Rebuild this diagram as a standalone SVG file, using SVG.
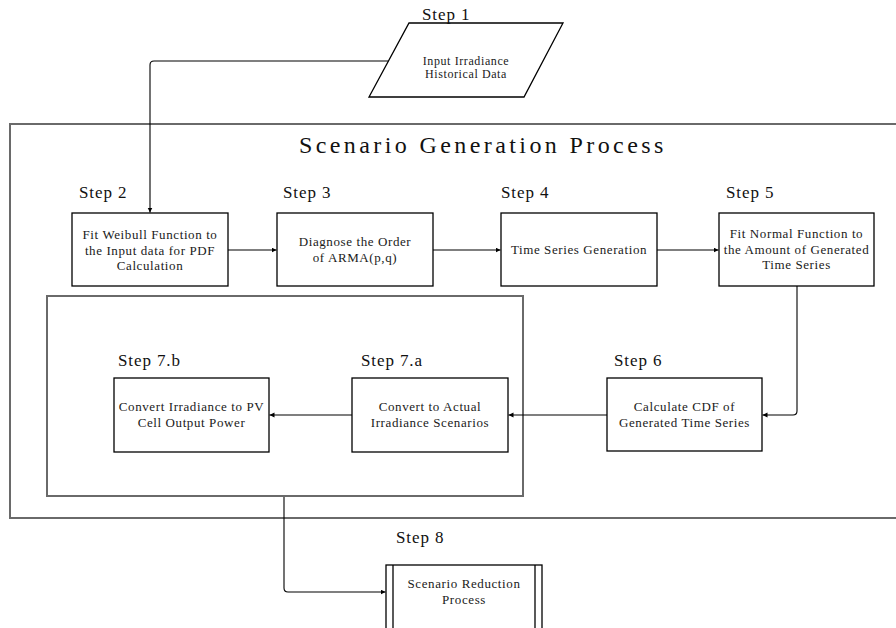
<svg xmlns="http://www.w3.org/2000/svg" width="896" height="628" viewBox="0 0 896 628" font-family="'Liberation Serif', 'DejaVu Serif', serif">
<defs>
<style>
.box{fill:#fff;stroke:#000;stroke-width:1.3}
.frame{fill:none;stroke:#6a6a6a;stroke-width:2}
.step{font-size:17px;fill:#111;letter-spacing:0.9px}
.t{font-size:13px;fill:#1a1a1a;letter-spacing:0.6px;text-anchor:middle}
.title{font-size:24px;fill:#111;letter-spacing:3.4px}
.c{fill:none;stroke:#000;stroke-width:1.1}
</style>
<marker id="ah" markerUnits="userSpaceOnUse" markerWidth="6" markerHeight="6" refX="5" refY="2.5" orient="auto">
<path d="M0,0 L5,2.5 L0,5 z" fill="#000"/>
</marker>
</defs>
<rect width="896" height="628" fill="#fff"/>

<g id="container">
<rect class="frame" x="10" y="124" width="900" height="394"/>
<text class="title" x="299" y="153">Scenario Generation Process</text>
</g>
<g id="inner-container">
<rect class="frame" x="47" y="296" width="476" height="200"/>
</g>

<g id="step1">
<polygon class="box" points="409,23 563,23 524,97 369,97"/>
<text class="step" x="422" y="20">Step 1</text>
<text class="t" x="466" y="65" style="font-size:12px">Input Irradiance</text>
<text class="t" x="466" y="78" style="font-size:12px">Historical Data</text>
</g>

<g id="step2">
<rect class="box" x="72" y="213" width="156" height="73"/>
<text class="step" x="79" y="198">Step 2</text>
<text class="t" x="150" y="239">Fit Weibull Function to</text>
<text class="t" x="150" y="255">the Input data for PDF</text>
<text class="t" x="150" y="270">Calculation</text>
</g>

<g id="step3">
<rect class="box" x="277" y="213" width="156" height="73"/>
<text class="step" x="283" y="198">Step 3</text>
<text class="t" x="355" y="246">Diagnose the Order</text>
<text class="t" x="355" y="262">of ARMA(p,q)</text>
</g>

<g id="step4">
<rect class="box" x="501" y="213" width="156" height="73"/>
<text class="step" x="501" y="198">Step 4</text>
<text class="t" x="579" y="254">Time Series Generation</text>
</g>

<g id="step5">
<rect class="box" x="719" y="213" width="155" height="73"/>
<text class="step" x="726" y="198">Step 5</text>
<text class="t" x="796.5" y="238">Fit Normal Function to</text>
<text class="t" x="796.5" y="254">the Amount of Generated</text>
<text class="t" x="796.5" y="269">Time Series</text>
</g>

<g id="step6">
<rect class="box" x="607" y="378" width="155" height="73"/>
<text class="step" x="614" y="366">Step 6</text>
<text class="t" x="684.5" y="411">Calculate CDF of</text>
<text class="t" x="684.5" y="427">Generated Time Series</text>
</g>

<g id="step7a">
<rect class="box" x="352" y="378" width="156" height="74"/>
<text class="step" x="361" y="366">Step 7.a</text>
<text class="t" x="430" y="411">Convert to Actual</text>
<text class="t" x="430" y="427">Irradiance Scenarios</text>
</g>

<g id="step7b">
<rect class="box" x="114" y="378" width="155" height="74"/>
<text class="step" x="118" y="366">Step 7.b</text>
<text class="t" x="191.5" y="411">Convert Irradiance to PV</text>
<text class="t" x="191.5" y="427">Cell Output Power</text>
</g>

<g id="step8">
<rect class="box" x="386" y="565" width="156" height="80"/>
<line x1="393" y1="565" x2="393" y2="640" stroke="#000" stroke-width="1.3"/>
<line x1="535" y1="565" x2="535" y2="640" stroke="#000" stroke-width="1.3"/>
<text class="step" x="396" y="543">Step 8</text>
<text class="t" x="464" y="588">Scenario Reduction</text>
<text class="t" x="464" y="604">Process</text>
</g>

<g id="connectors">
<path class="c" d="M388.5,61 H154 Q150,61 150,65 V212.5" marker-end="url(#ah)"/>
<path class="c" d="M228,250 H276.5" marker-end="url(#ah)"/>
<path class="c" d="M433,250 H500.5" marker-end="url(#ah)"/>
<path class="c" d="M657,250 H718.5" marker-end="url(#ah)"/>
<path class="c" d="M797,286 V411 Q797,415 793,415 H762.5" marker-end="url(#ah)"/>
<path class="c" d="M607,415 H508.5" marker-end="url(#ah)"/>
<path class="c" d="M352,415 H269.5" marker-end="url(#ah)"/>
<path class="c" d="M284,497 V588 Q284,592 288,592 H385.5" marker-end="url(#ah)"/>
</g>
</svg>
